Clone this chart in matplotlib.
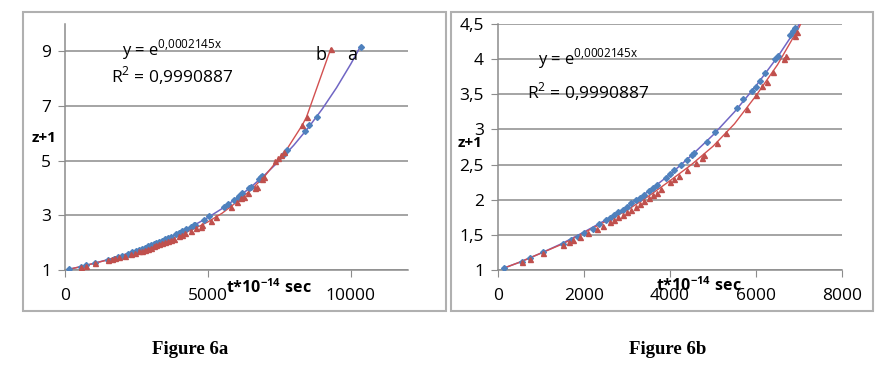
import numpy as np
import matplotlib
matplotlib.use('Agg')
import matplotlib.pyplot as plt
from matplotlib.patches import Rectangle

plt.rcParams['font.family'] = ['Open Sans', 'DejaVu Sans']
plt.rcParams['mathtext.fontset'] = 'custom'
plt.rcParams['mathtext.rm'] = 'Open Sans'
plt.rcParams['mathtext.bf'] = 'Open Sans:bold'

# series a (blue diamonds)
a_t = [150, 550, 750, 1050, 1500, 1700, 1850, 2000, 2200, 2350, 2500, 2600, 2700,
       2800, 2900, 3000, 3100, 3200, 3300, 3400, 3500, 3600, 3700, 3900, 4000,
       4100, 4250, 4400, 4500, 4550, 4850, 5050, 5550, 5700, 5900, 6000, 6100,
       6200, 6450, 6500, 6800, 6850, 6900, 7650, 7750, 8400, 8550, 8800, 10350]
a_z = [1.03, 1.12, 1.17, 1.25, 1.37, 1.42, 1.47, 1.53, 1.59, 1.65, 1.71, 1.74, 1.78,
       1.82, 1.86, 1.90, 1.95, 1.99, 2.03, 2.07, 2.12, 2.16, 2.21, 2.31, 2.36,
       2.42, 2.49, 2.57, 2.63, 2.66, 2.82, 2.96, 3.30, 3.43, 3.55, 3.61, 3.69,
       3.80, 4.00, 4.05, 4.34, 4.40, 4.44, 5.25, 5.40, 6.10, 6.30, 6.60, 9.15]

# series b (red triangles)
b_t = [550, 750, 1050, 1500, 1650, 1750, 1900, 2100, 2300, 2450, 2600, 2700, 2800,
       2900, 3000, 3100, 3200, 3300, 3400, 3500, 3600, 3700, 3800, 4000, 4100,
       4200, 4400, 4600, 4750, 4800, 5100, 5300, 5800, 6000, 6150, 6250, 6400,
       6650, 6700, 6900, 6950, 7350, 7450, 7550, 7650, 8300, 8450, 9300]
b_z = [1.11, 1.16, 1.24, 1.36, 1.40, 1.43, 1.47, 1.53, 1.58, 1.63, 1.68, 1.71, 1.75,
       1.78, 1.82, 1.86, 1.90, 1.94, 1.98, 2.02, 2.06, 2.10, 2.15, 2.25, 2.29,
       2.34, 2.42, 2.52, 2.59, 2.63, 2.80, 2.95, 3.29, 3.49, 3.62, 3.68, 3.82,
       4.00, 4.05, 4.33, 4.39, 5.00, 5.10, 5.20, 5.30, 6.30, 6.60, 9.10]

# trend line through a, and smoothed line through b
a_line_t = [150, 500, 1000, 1500, 2000, 2500, 3000, 3500, 4000, 4500, 5000, 5500,
            6000, 6500, 7000, 7500, 8000, 8500, 9000, 9500, 10000, 10350]
a_line_z = [1.03, 1.11, 1.24, 1.38, 1.54, 1.71, 1.90, 2.12, 2.36, 2.63, 2.92, 3.25,
            3.62, 4.03, 4.49, 5.00, 5.56, 6.19, 6.89, 7.67, 8.54, 9.20]
b_line_t = [150, 500, 1000, 1500, 2000, 2500, 3000, 3500, 4000, 4500, 5000, 5500,
            6000, 6500, 7000, 7500, 7750, 8300, 8450, 9300]
b_line_z = [1.03, 1.11, 1.24, 1.37, 1.53, 1.69, 1.85, 2.05, 2.27, 2.50, 2.76, 3.08,
            3.48, 3.92, 4.45, 5.10, 5.40, 6.30, 6.60, 9.10]

eq_text = r'y = e$^{\mathrm{0{,}0002145x}}$'
r2_text = r'R$^2$ = 0,9990887'

W, H = 881, 366
fig = plt.figure(figsize=(W / 100, H / 100), dpi=100)

def px(x0, y0, x1, y1):
    return [x0 / W, 1 - y1 / H, (x1 - x0) / W, (y1 - y0) / H]

# panel frames
for x0, x1 in [(23, 446), (451, 873)]:
    fig.patches.append(Rectangle((x0 / W, 1 - 311 / H), (x1 - x0) / W, 299 / H,
                                 transform=fig.transFigure, fill=False,
                                 edgecolor='#b0b0b0', lw=1.5))

blue = '#4F81BD'
red = '#C0504D'
bline = '#7066C4'
rline = '#D25050'
grey = '#8c8c8c'

def style(ax, xlim, ylim, xt, yt, ylabels):
    ax.set_xlim(*xlim)
    ax.set_ylim(*ylim)
    ax.set_xticks(xt)
    ax.set_yticks(yt)
    ax.set_yticklabels(ylabels)
    ax.grid(axis='y', color=grey, lw=1.1)
    ax.set_axisbelow(True)
    for s in ['top', 'right']:
        ax.spines[s].set_visible(False)
    for s in ['left', 'bottom']:
        ax.spines[s].set_color(grey)
        ax.spines[s].set_linewidth(1.1)
    ax.tick_params(direction='out', length=5, color=grey, labelsize=12.5,
                   labelcolor='black')
    ax.tick_params(axis='x', pad=8)
    ax.tick_params(axis='y', pad=5)
    ax.set_facecolor('none')

def draw(ax):
    ax.plot(a_line_t, a_line_z, color=bline, lw=1.1, zorder=3)
    ax.plot(b_line_t, b_line_z, color=rline, lw=1.0, zorder=3)
    ax.plot(a_t, a_z, 'D', color=blue, ms=3.0, zorder=4)
    ax.plot(b_t, b_z, '^', color=red, ms=3.6, zorder=4)

ax1 = fig.add_axes(px(65, 24, 408, 270))
draw(ax1)
style(ax1, (0, 12000), (1, 10), [0, 5000, 10000], [1, 3, 5, 7, 9],
      ['1', '3', '5', '7', '9'])
ax1.text(3750, 9.05, eq_text, fontsize=12, ha='center', va='center')
ax1.text(3750, 8.1, r2_text, fontsize=12.5, ha='center', va='center')
ax1.text(8950, 8.85, 'b', fontsize=13, ha='center', va='center')
ax1.text(10050, 8.85, 'a', fontsize=13, ha='center', va='center')

ax2 = fig.add_axes(px(498, 24, 842, 270))
draw(ax2)
style(ax2, (0, 8000), (1, 4.5), [0, 2000, 4000, 6000, 8000],
      [1, 1.5, 2, 2.5, 3, 3.5, 4, 4.5],
      ['1', '1,5', '2', '2,5', '3', '3,5', '4', '4,5'])
ax2.text(2100, 4.0, eq_text, fontsize=12, ha='center', va='center')
ax2.text(2100, 3.53, r2_text, fontsize=12.5, ha='center', va='center')

# axis titles
xlab = r'$\mathbf{t{*}10^{-14}\ sec}$'
fig.text(269 / W, 1 - 288 / H, xlab, fontsize=11.5, ha='center', va='center')
fig.text(699 / W, 1 - 286 / H, xlab, fontsize=11.5, ha='center', va='center')
fig.text(44 / W, 1 - 138 / H, 'z+1', fontsize=11, fontweight='bold',
         ha='center', va='center')
fig.text(470 / W, 1 - 143 / H, 'z+1', fontsize=11, fontweight='bold',
         ha='center', va='center')

fig.text(190 / W, 1 - 350 / H, 'Figure 6a', family='Liberation Serif',
         fontweight='bold', fontsize=13.5, ha='center', va='center')
fig.text(668 / W, 1 - 350 / H, 'Figure 6b', family='Liberation Serif',
         fontweight='bold', fontsize=13.5, ha='center', va='center')

fig.savefig('out.png', dpi=100)
